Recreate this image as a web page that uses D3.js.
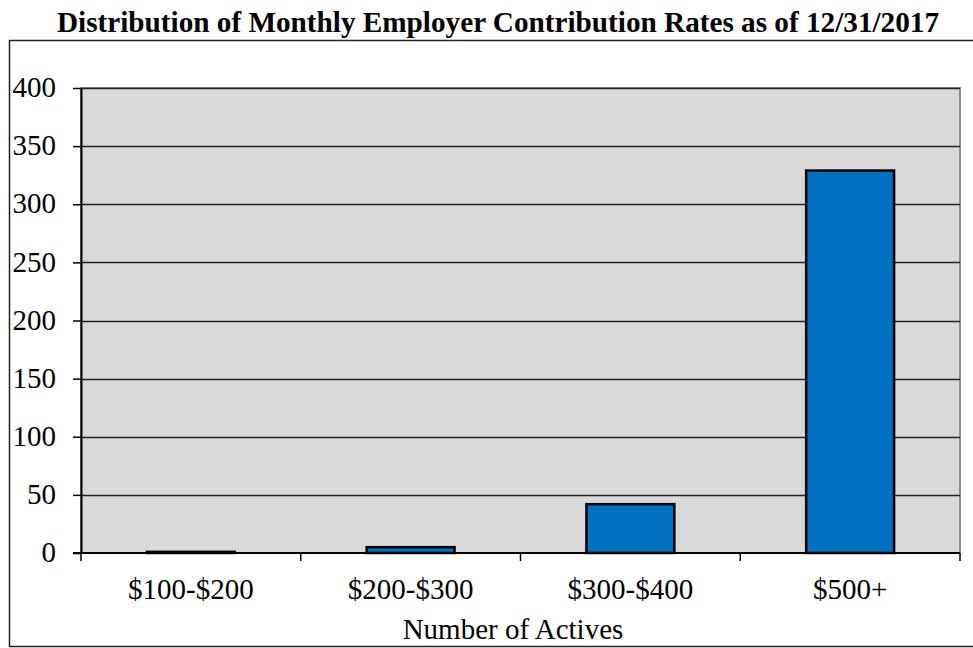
<!DOCTYPE html>
<html><head><meta charset="utf-8">
<script src="https://cdn.jsdelivr.net/npm/d3@7"></script>
<style>body{margin:0;background:#fff}svg{display:block}</style>
</head><body>
<svg id="c" width="973" height="648"></svg>
<script>
const title = "Distribution of Monthly Employer Contribution Rates as of 12/31/2017";
const categories = ["$100-$200", "$200-$300", "$300-$400", "$500+"];
const values = [1, 5, 42, 329];
const yTicks = [0, 50, 100, 150, 200, 250, 300, 350, 400];
const xTitle = "Number of Actives";

const svg = d3.select("#c");
const serif = "'Liberation Serif','Times New Roman',serif";
const L = 81, R = 960, T = 88, B = 553;
const fs = 29;

// outer frame
svg.append("path").attr("d", `M9.5,647 V40.5 H973`).attr("fill","none").attr("stroke","#222").attr("stroke-width",1.5);
svg.append("line").attr("x1",9).attr("x2",973).attr("y1",646.5).attr("y2",646.5).attr("stroke","#222").attr("stroke-width",1.5);

// title
svg.append("text").attr("x", 498).attr("y", 32).attr("text-anchor","middle")
  .attr("font-family", serif).attr("font-weight","bold").attr("font-size", 30)
  .attr("textLength", 882).attr("lengthAdjust","spacingAndGlyphs").attr("fill","#000").text(title);

const x = d3.scaleBand().domain(categories).range([L, R]).paddingInner(0.6).paddingOuter(0.3);
const y = d3.scaleLinear().domain([0, 400]).range([B, T]);

// plot background
svg.append("rect").attr("x", L).attr("y", T).attr("width", R-L).attr("height", B-T)
  .attr("fill","#d9d9d9").attr("stroke","#8c8c8c").attr("stroke-width",2);

// gridlines
svg.append("g").selectAll("line").data(yTicks.filter(d=>d>0)).join("line")
  .attr("x1", L).attr("x2", R).attr("y1", d=>Math.round(y(d))+0.5).attr("y2", d=>Math.round(y(d))+0.5)
  .attr("stroke","#222").attr("stroke-width",1.5);

// bars
svg.append("g").selectAll("rect").data(values).join("rect")
  .attr("x", (d,i)=>x(categories[i])).attr("width", x.bandwidth())
  .attr("y", d=>y(d)).attr("height", d=>B-y(d))
  .attr("fill","#0070c0").attr("stroke","#000").attr("stroke-width",2.5);

// y axis
const yAxis = d3.axisLeft(y).tickValues(yTicks).tickSize(8).tickPadding(17).tickSizeOuter(0);
const gy = svg.append("g").attr("transform",`translate(${L},0)`).call(yAxis);
gy.select(".domain").attr("stroke","#000").attr("stroke-width",2);
gy.selectAll(".tick line").attr("stroke","#000").attr("stroke-width",1.5);
gy.selectAll("text").attr("font-family", serif).attr("font-size", fs).attr("fill","#000").attr("dy","0.3em");

// x axis with boundary ticks
const gx = svg.append("g").attr("transform",`translate(0,${B})`);
gx.append("line").attr("x1", L-8).attr("x2", R).attr("y1",0).attr("y2",0).attr("stroke","#000").attr("stroke-width",2);
const edges = d3.range(categories.length+1).map(i => L + i*x.step());
gx.selectAll("line.t").data(edges).join("line").attr("class","t")
  .attr("x1", d=>d).attr("x2", d=>d).attr("y1",0).attr("y2",8).attr("stroke","#000").attr("stroke-width",1.5);
gx.selectAll("text").data(categories).join("text")
  .attr("x", d=>x(d)+x.bandwidth()/2).attr("y", 46).attr("text-anchor","middle")
  .attr("font-family", serif).attr("font-size", fs).attr("fill","#000").text(d=>d);

// x title
svg.append("text").attr("x", 513).attr("y", 639).attr("text-anchor","middle")
  .attr("font-family", serif).attr("font-size", fs).attr("fill","#000").text(xTitle);
</script>
</body></html>
